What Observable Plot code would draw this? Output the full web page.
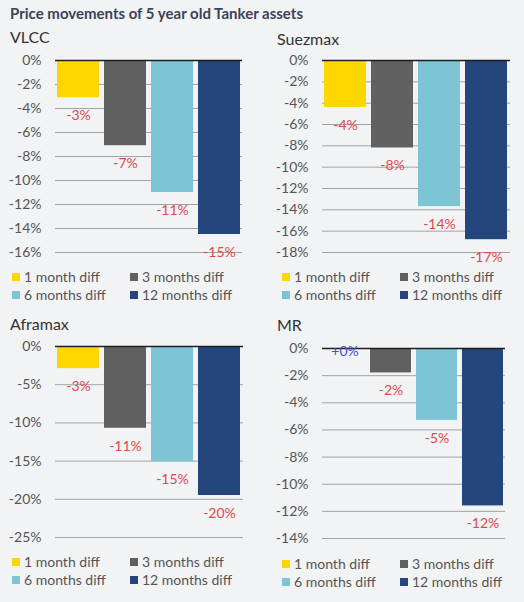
<!DOCTYPE html>
<html>
<head>
<meta charset="utf-8">
<script src="https://cdn.jsdelivr.net/npm/d3@7"></script>
<script src="https://cdn.jsdelivr.net/npm/@observablehq/plot@0.6"></script>
<style>
  html, body { margin: 0; padding: 0; }
  body { width: 524px; height: 602px; position: relative; background: #f2f3f5; font-family: Lato, sans-serif; overflow: hidden; }
  .abs { position: absolute; }
  #title { left: 10px; top: 4px; font-size: 15px; font-weight: bold; color: #3c4257; line-height: 18px; white-space: nowrap; }
  .pname { font-size: 16px; color: #333; line-height: 16px; }
  .legend { display: grid; grid-template-columns: 118px 130px; font-size: 14px; color: #555; line-height: 18px; }
  .legend div { display: flex; align-items: center; white-space: nowrap; }
  .legend span.sw { display: inline-block; width: 8px; height: 8px; margin-right: 4px; }
</style>
</head>
<body>
<div id="title" class="abs">Price movements of 5 year old Tanker assets</div>
<script>
const series = ["1 month diff", "3 months diff", "6 months diff", "12 months diff"];
const colors = ["#FFD700", "#606060", "#7DC5D5", "#24467C"];

const vlcc = [-3.1, -7.1, -11.0, -14.5];
const suezmax = [-4.4, -8.2, -13.7, -16.8];
const aframax = [-2.9, -10.7, -15.1, -19.5];
const mr = [0, -1.8, -5.3, -11.6];

const vlccTicks = [0, -2, -4, -6, -8, -10, -12, -14, -16];
const suezmaxTicks = [0, -2, -4, -6, -8, -10, -12, -14, -16, -18];
const aframaxTicks = [0, -5, -10, -15, -20, -25];
const mrTicks = [0, -2, -4, -6, -8, -10, -12, -14];

const fmt = v => (v >= 0 ? "+" : "-") + Math.round(Math.abs(v)) + "%";

const panels = [
  {name: "VLCC", values: vlcc, ticks: vlccTicks, left: 0, nameLeft: 10, nameTop: 29, top: 50, height: 212, mL: 55, mR: 20, legTop: 268, legLeft: 12},
  {name: "Suezmax", values: suezmax, ticks: suezmaxTicks, left: 262, nameLeft: 277, nameTop: 31, top: 50, height: 212, mL: 60, mR: 14, legTop: 268, legLeft: 20},
  {name: "Aframax", values: aframax, ticks: aframaxTicks, left: 0, nameLeft: 10, nameTop: 316, top: 336, height: 211, mL: 55, mR: 19, legTop: 553, legLeft: 12},
  {name: "MR", values: mr, ticks: mrTicks, left: 262, nameLeft: 277, nameTop: 317, top: 338, height: 210, mL: 60, mR: 19, legTop: 555, legLeft: 20}
];

for (const p of panels) {
  const data = series.map((s, i) => ({s, v: p.values[i]}));
  const yMin = d3.min(p.ticks);

  const nm = document.createElement("div");
  nm.className = "abs pname";
  nm.style.left = p.nameLeft + "px";
  nm.style.top = p.nameTop + "px";
  nm.textContent = p.name;
  document.body.appendChild(nm);

  const chart = Plot.plot({
    width: 262,
    height: p.height,
    marginLeft: p.mL,
    marginRight: p.mR,
    marginTop: 10,
    marginBottom: 10,
    style: {fontFamily: "Lato, sans-serif", fontSize: "14px", color: "#555", background: "transparent", overflow: "visible"},
    x: {domain: series, paddingInner: 0.1, paddingOuter: 0.03, axis: null},
    y: {domain: [yMin, 0], axis: null},
    color: {domain: series, range: colors},
    marks: [
      Plot.ruleY(p.ticks.filter(t => t !== 0), {stroke: "#a3a3a3", strokeWidth: 1}),
      Plot.barY(data, {x: "s", y1: 0, y2: "v", fill: "s"}),
      Plot.ruleY([0], {stroke: "#1e1e1e", strokeWidth: 1.5}),
      Plot.axisY(p.ticks, {tickSize: 0, tickPadding: 14, tickFormat: d => d + "%", fontSize: 14, label: null}),
      Plot.text(data.filter(d => d.v < 0), {x: "s", y: "v", dy: 18, text: d => fmt(d.v), fill: "#e0474c", fontSize: 14}),
      Plot.text(data.filter(d => d.v >= 0), {x: "s", y: "v", dy: 3, text: d => fmt(d.v), fill: "#4a4fc8", fontSize: 14})
    ]
  });
  chart.classList.add("abs");
  chart.style.left = p.left + "px";
  chart.style.top = p.top + "px";
  document.body.appendChild(chart);

  const leg = document.createElement("div");
  leg.className = "abs legend";
  leg.style.left = (p.left + p.legLeft) + "px";
  leg.style.top = p.legTop + "px";
  series.forEach((s, i) => {
    const item = document.createElement("div");
    const sw = document.createElement("span");
    sw.className = "sw";
    sw.style.background = colors[i];
    item.appendChild(sw);
    item.appendChild(document.createTextNode(s));
    leg.appendChild(item);
  });
  document.body.appendChild(leg);
}
</script>
</body>
</html>
